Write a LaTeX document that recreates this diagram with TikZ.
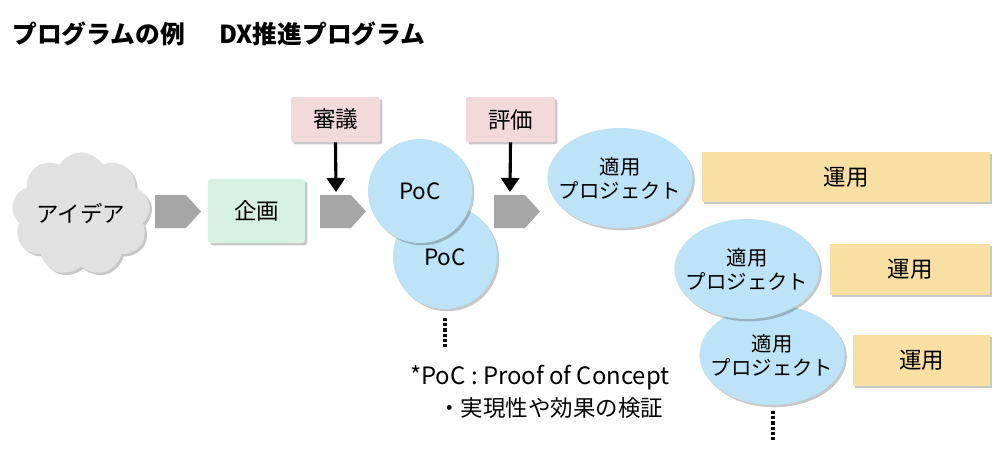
\documentclass[tikz,border=0pt]{standalone}
\usepackage{fontspec}
\setmainfont{Noto Sans CJK JP}
\usetikzlibrary{arrows.meta}
\usetikzlibrary{shapes.geometric,shapes.symbols}
\usetikzlibrary{shadows}

\definecolor{cloudgray}{HTML}{E1E1E1}
\definecolor{stepgray}{HTML}{A6A6A6}
\definecolor{plangreen}{HTML}{D6F1E2}
\definecolor{reviewpink}{HTML}{F2D9DA}
\definecolor{pocblue}{HTML}{BDE3F6}
\definecolor{opsyellow}{HTML}{F9DFA2}

\newcommand{\fsz}[1]{\fontsize{#1}{#1}\selectfont}

\tikzset{
  softshadow/.style={drop shadow={shadow xshift=1.6pt, shadow yshift=-1.6pt, fill=black, opacity=0.22}},
  label/.style={font=\fsz{16pt}, text=black, inner sep=0pt},
  reviewbox/.style={label, fill=reviewpink, rounded corners=1.5pt, minimum width=2.225cm, minimum height=1.125cm, softshadow},
  pocball/.style={label, circle, fill=pocblue, minimum size=2.6cm, softshadow},
  projball/.style={label, ellipse, fill=pocblue, minimum width=3.6cm, minimum height=2.5cm, align=center,
                   inner xsep=-7pt, font=\fontsize{14.5pt}{17pt}\selectfont, softshadow},
  opsbar/.style={label, fill=opsyellow, minimum height=1.275cm, softshadow},
  gate/.style={-{Triangle[width=13pt,length=10pt]}, line width=2.2pt},
  moredots/.style={line width=2.3pt, dash pattern=on 2.2pt off 1.5pt}
}

\begin{document}
\begin{tikzpicture}[x=0.025cm, y=-0.025cm]
        \useasboundingbox (0,0) rectangle (1000,450);

        \node[anchor=west, font=\fsz{17.6pt}\bfseries, inner sep=0pt] (title) at (12,34)
          {プログラムの例\hspace{1.4em}DX推進プログラム};

        % idea -> plan -> PoC -> project
        \node[label, cloud, cloud puffs=9, cloud puff arc=120, aspect=1.2, fill=cloudgray,
              minimum width=2.55cm, minimum height=2.2cm, softshadow] (idea) at (81,214) {アイデア};
        \node[label, fill=plangreen, rounded corners=2pt, minimum width=2.425cm, minimum height=1.6cm,
              softshadow] (plan) at (256.5,211) {企画};

        \foreach \x in {155, 320, 494}
        \fill[stepgray] (\x,195) -- (\x+31,195) -- (\x+46,211.5) -- (\x+31,228) -- (\x,228) -- cycle;
        \coordinate (gate1) at (336,192);
        \coordinate (gate2) at (510,192);

        \node[pocball] (poc2) at (445,257) {PoC};
        \node[pocball] (poc1) at (420,191) {PoC};
        \coordinate (poc-more1) at (445,318);
        \coordinate (poc-more2) at (445,348);
        \draw[moredots] (poc-more1) -- (poc-more2);

        \node[reviewbox] (review) at (335.5,119.5) {審議};
        \node[reviewbox] (assess) at (510.5,119.5) {評価};
        \draw[gate] (review.south) -- (gate1);
        \draw[gate] (assess.south) -- (gate2);

        \node[projball] (proj3) at (772,355) {適用\\プロジェクト};
        \node[projball] (proj2) at (747,269) {適用\\プロジェクト};
        \node[projball] (proj1) at (620,178) {適用\\プロジェクト};
        \coordinate (proj-more1) at (773,411);
        \coordinate (proj-more2) at (773,441);
        \draw[moredots] (proj-more1) -- (proj-more2);

        \node[opsbar, minimum width=7.2cm, minimum height=1.25cm] (ops1) at (846,177) {運用};
        \node[opsbar, minimum width=4.0cm] (ops2) at (910,269.5) {運用};
        \node[opsbar, minimum width=3.425cm] (ops3) at (921.5,360.5) {運用};

        \node[label, anchor=west, font=\fsz{17pt}] (note1) at (410,378) {*PoC : Proof of Concept};
        \node[label, anchor=west] (note2) at (438,408) {・実現性や効果の検証};
      \end{tikzpicture}
\end{document}
